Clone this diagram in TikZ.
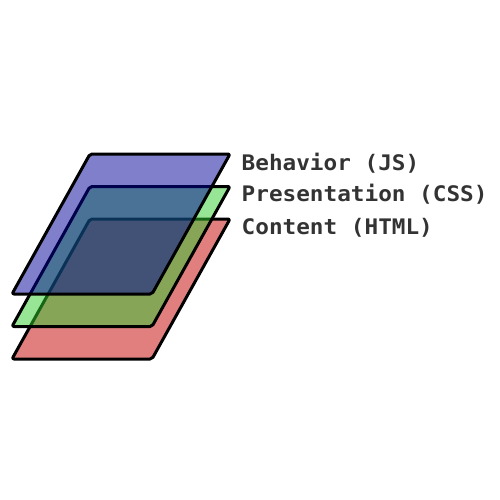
\documentclass[tikz,border=0pt]{standalone}
\usepackage{fontspec}
\newfontfamily\labelfont[FakeStretch=1.06]{DejaVu Sans Mono Bold}
\definecolor{layerred}{RGB}{195,0,0}
\definecolor{layergreen}{RGB}{45,205,45}
\definecolor{layerblue}{RGB}{0,0,153}
\definecolor{labelgray}{RGB}{51,51,51}
\begin{document}
\begin{tikzpicture}[x=1pt,y=-1pt,
  layer/.style={draw=black,line width=3pt,rounded corners=2pt,line join=round,fill opacity=0.5},
  layerlabel/.style={anchor=base west,inner sep=0pt,text=labelgray,font=\labelfont\fontsize{21.4}{25}\selectfont}]
  \useasboundingbox (0,0) rectangle (500,500);
  % three stacked sheets, bottom to top
  \foreach \c/\dy in {layerred/0,layergreen/-32.5,layerblue/-65}{
    \path[layer,fill=\c] (90,219+\dy) -- (230,219+\dy) -- (152,359+\dy) -- (12,359+\dy) -- cycle;
  }
  \node[layerlabel] (js) at (241.5,170.7) {Behavior (JS)};
  \node[layerlabel] (css) at (241.5,201.5) {Presentation (CSS)};
  \node[layerlabel] (html) at (241.5,234) {Content (HTML)};
\end{tikzpicture}
\end{document}
